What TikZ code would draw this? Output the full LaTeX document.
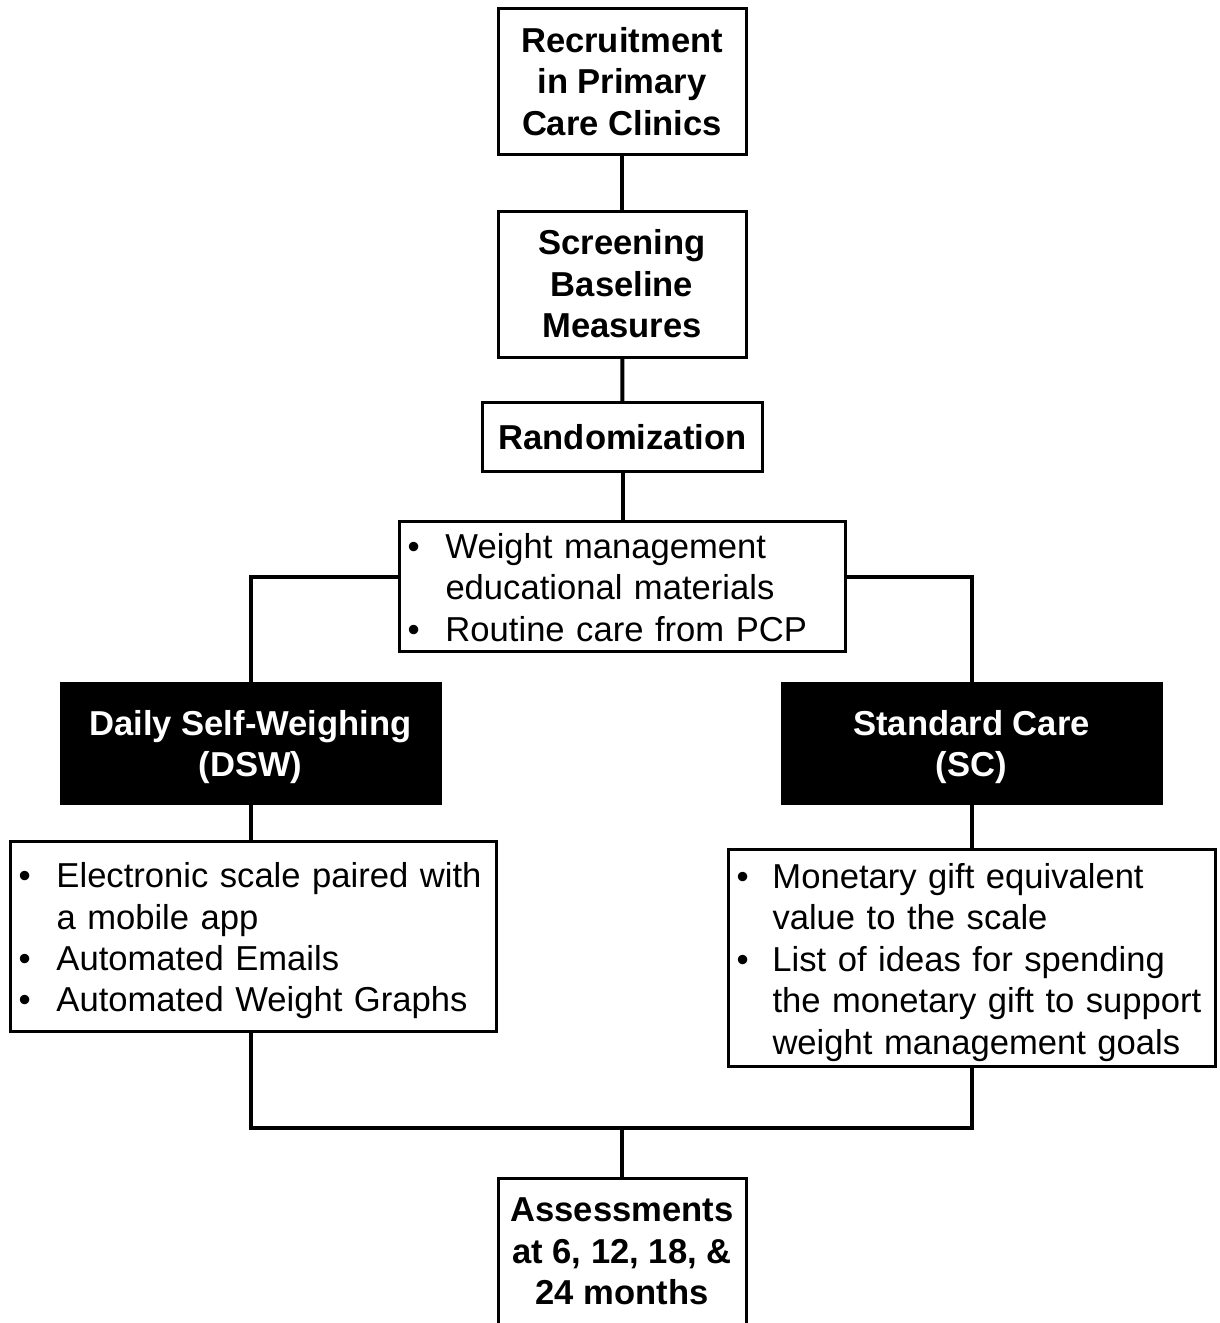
\documentclass[tikz,border=0pt]{standalone}
\usepackage{fontspec}
\setmainfont{Liberation Sans}
\usetikzlibrary{positioning}

\begin{document}
\begin{tikzpicture}[
    x=0.5pt, y=-0.5pt,
    main box/.style={draw=black, line width=1.5pt, fill=white, align=center, inner sep=0pt,
        minimum width=124pt, minimum height=73pt, font=\bfseries\fontsize{17.3}{20.7}\selectfont},
    arm box/.style={draw=black, fill=black, text=white, line width=1.5pt, align=center, inner sep=0pt,
        minimum width=189.5pt, minimum height=60pt, font=\bfseries\fontsize{17.3}{20.7}\selectfont},
    list box/.style={draw=black, line width=1.5pt, fill=white, align=left, inner xsep=4pt, inner ysep=0pt,
        font=\fontsize{17.3}{20.7}\selectfont},
    link/.style={line width=2pt}
]
\useasboundingbox (0,0) rectangle (1220,1323);

\node[main box] (rec) at (622,81.5) {Recruitment\\in Primary\\Care Clinics};
\node[main box] (scr) at (622,284) {Screening\\Baseline\\Measures};
\node[main box, minimum width=140pt, minimum height=34.5pt] (rnd) at (622.5,437) {Randomization};
\node[list box, text width=215pt, inner ysep=-1.25pt] (edu) at (622.5,586.5) {%
    \begin{tabular}{@{}p{19pt}@{}l@{}}
    \rule{0pt}{19.5pt}\textbullet & Weight management\\
                & educational materials\\
    \textbullet & Routine care from PCP
    \end{tabular}};

\node[arm box] (dsw) at (250.5,743) {\rule{0pt}{16.5pt}Daily Self-Weighing\\(DSW)};
\node[arm box] (sc) at (971.5,743) {\rule{0pt}{16.5pt}Standard Care\\(SC)};

\node[list box, text width=235pt, minimum height=95pt] (dswl) at (253.5,936.5) {%
    \begin{tabular}{@{}p{19pt}@{}l@{}}
    \rule{0pt}{19.5pt}\textbullet & Electronic scale paired with\\
                & a mobile app\\
    \textbullet & Automated Emails\\
    \textbullet & Automated Weight Graphs
    \end{tabular}};
\node[list box, text width=235.5pt, minimum height=108.5pt] (scl) at (972,958) {%
    \begin{tabular}{@{}p{18pt}@{}l@{}}
    \rule{0pt}{19.5pt}\textbullet & Monetary gift equivalent\\
                & value to the scale\\
    \textbullet & List of ideas for spending\\
                & the monetary gift to support\\
                & weight management goals
    \end{tabular}};

\node[main box] (asm) at (622,1251.5) {Assessments\\at 6, 12, 18, \&\\24 months};

\coordinate (join) at (622,1128);

% trunk
\draw[link] (rec) -- (scr);
\draw[link] (scr) -- (rnd);
\draw[link] (rnd) -- (edu);

% arms
\draw[link] ([yshift=4.75pt]edu.west) -| (dsw.north);
\draw[link] ([yshift=4.75pt]edu.east) -| (sc.north);
\draw[link] (dsw.south) -- (dsw.south |- dswl.north);
\draw[link] (sc.south) -- (sc.south |- scl.north);

% back together
\draw[link] (dswl.south -| dsw.south) -- (dsw.south |- join) -- (sc.south |- join) -- (scl.south -| sc.south);
\draw[link] (join) -- (asm);
\end{tikzpicture}
\end{document}
